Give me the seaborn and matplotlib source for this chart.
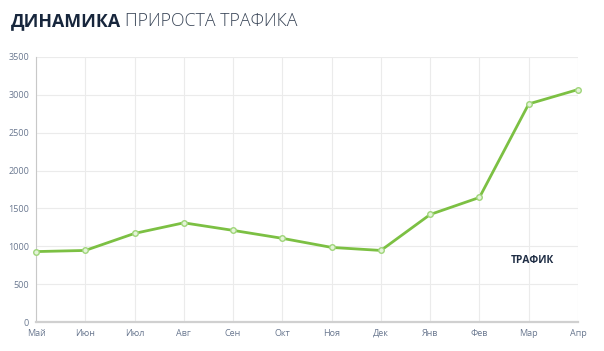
import matplotlib
matplotlib.use("Agg")
import matplotlib.pyplot as plt
import seaborn as sns
import pandas as pd

months = ["Май", "Июн", "Июл", "Авг", "Сен", "Окт", "Ноя", "Дек", "Янв", "Фев", "Мар", "Апр"]
traffic = [930, 945, 1170, 1310, 1210, 1105, 985, 945, 1420, 1645, 2880, 3070]
y_ticks = [0, 500, 1000, 1500, 2000, 2500, 3000, 3500]

df = pd.DataFrame({"month": months, "traffic": traffic, "pos": range(len(months))})

sns.set_style("white")
plt.rcParams["font.family"] = ["Open Sans", "DejaVu Sans"]

fig = plt.figure(figsize=(6.04, 3.51), dpi=100)
ax = fig.add_axes([36 / 604, 29 / 351, 542 / 604, 265 / 351])

sns.lineplot(data=df, x="pos", y="traffic", ax=ax, color="#7cc043", linewidth=2,
             marker="o", markersize=4, markerfacecolor="#e4f3d8",
             markeredgecolor="#9fd57a", markeredgewidth=1, clip_on=False, zorder=3)

ax.set_xlim(0, len(months) - 1)
ax.set_ylim(0, 3500)
ax.set_xticks(df["pos"])
ax.set_xticklabels(months)
ax.set_yticks(y_ticks)
ax.grid(True, color="#ebebeb", linewidth=0.8)
ax.set_axisbelow(True)
for side in ["top", "right"]:
    ax.spines[side].set_visible(False)
ax.spines["left"].set_color("#c8c8c8")
ax.spines["bottom"].set_color("#d0d0d0")
ax.spines["bottom"].set_linewidth(1.6)
ax.tick_params(axis="both", labelsize=6.5, colors="#c8c8c8", labelcolor="#6a7890", length=3, width=0.8)
ax.tick_params(axis="y", pad=2)
ax.tick_params(axis="x", pad=2)
ax.set_xlabel("")
ax.set_ylabel("")

ax.text(9.64, 806, "ТРАФИК", fontsize=7.3, fontweight="bold", color="#1f2d44", va="center")

t1 = fig.text(11 / 604, 1 - 21 / 351, "ДИНАМИКА", fontsize=12.8, fontweight="bold",
              color="#17263c", va="center", ha="left")
fig.canvas.draw()
bb = t1.get_window_extent()
fig.text((bb.x1 + 4) / 604, 1 - 21 / 351, "ПРИРОСТА ТРАФИКА", fontsize=12.8,
         fontweight="light", color="#3a4658", va="center", ha="left")

fig.savefig("out.png", dpi=100)
